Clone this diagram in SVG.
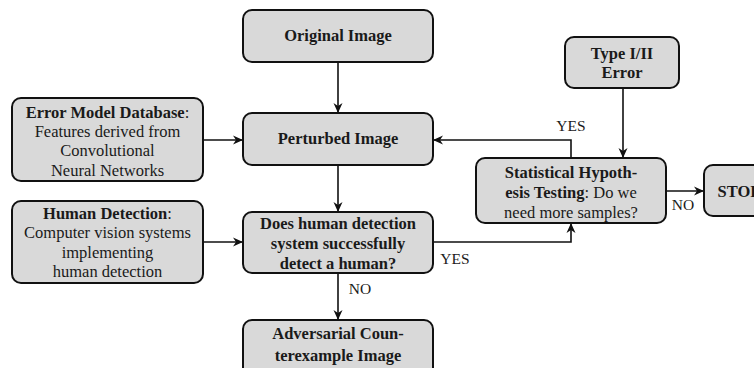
<svg xmlns="http://www.w3.org/2000/svg" width="754" height="368" viewBox="0 0 754 368" font-family="'Liberation Serif', 'Times New Roman', Times, 'DejaVu Serif', serif">
<defs>
<marker id="ah" viewBox="0 0 10 10" refX="9" refY="5" markerWidth="10" markerHeight="10" markerUnits="userSpaceOnUse" orient="auto">
<path d="M0,0.5 L10,5 L0,9.5 L3,5 Z" fill="#111"/>
</marker>
<style>
.box{fill:#d9d9d9;stroke:#111;stroke-width:2}
text{font-family:'Liberation Serif','Times New Roman',Times,'DejaVu Serif',serif;font-size:16.5px;fill:#1a1a1a;text-anchor:middle}
.b{font-weight:bold}
.lbl{font-size:15.5px}
.c{fill:none;stroke:#111;stroke-width:1.6}
</style>
</defs>
<rect width="754" height="368" fill="#fff"/>
<g id="connectors">
<path class="c" d="M338,62 V112" marker-end="url(#ah)"/>
<path class="c" d="M203,140 H242" marker-end="url(#ah)"/>
<path class="c" d="M338,165 V211" marker-end="url(#ah)"/>
<path class="c" d="M203,242 H242" marker-end="url(#ah)"/>
<path class="c" d="M338,273 V319" marker-end="url(#ah)"/>
<path class="c" d="M433,242 H571 V224" marker-end="url(#ah)"/>
<path class="c" d="M571,158 V140 H434" marker-end="url(#ah)"/>
<path class="c" d="M623,88 V157" marker-end="url(#ah)"/>
<path class="c" d="M666,191 H703" marker-end="url(#ah)"/>
<text class="lbl" x="360" y="294">NO</text>
<text class="lbl" x="455" y="264">YES</text>
<text class="lbl" x="571" y="131">YES</text>
<text class="lbl" x="683" y="210">NO</text>
</g>
<g id="original">
<rect class="box" x="243" y="10" width="190" height="52" rx="9"/>
<text class="b" x="338" y="41">Original Image</text>
</g>
<g id="perturbed">
<rect class="box" x="243" y="113" width="190" height="52" rx="9"/>
<text class="b" x="338" y="144">Perturbed Image</text>
</g>
<g id="errormodel">
<rect class="box" x="12" y="98" width="191" height="83" rx="9"/>
<text x="107.5" y="118"><tspan class="b">Error Model Database</tspan>:</text>
<text x="107.5" y="137">Features derived from</text>
<text x="107.5" y="156">Convolutional</text>
<text x="107.5" y="176">Neural Networks</text>
</g>
<g id="humandetection">
<rect class="box" x="12" y="201" width="191" height="82" rx="9"/>
<text x="107.5" y="219"><tspan class="b">Human Detection</tspan>:</text>
<text x="107.5" y="238">Computer vision systems</text>
<text x="107.5" y="258">implementing</text>
<text x="107.5" y="277">human detection</text>
</g>
<g id="does">
<rect class="box" x="243" y="212" width="190" height="61" rx="9"/>
<text class="b" x="338" y="229">Does human detection</text>
<text class="b" x="338" y="249">system successfully</text>
<text class="b" x="338" y="269">detect a human?</text>
</g>
<g id="adversarial">
<rect class="box" x="243" y="320" width="190" height="56" rx="9"/>
<text class="b" x="338" y="339">Adversarial Coun-</text>
<text class="b" x="338" y="361">terexample Image</text>
</g>
<g id="typeerror">
<rect class="box" x="565" y="37" width="114" height="51" rx="9"/>
<text class="b" x="622" y="59">Type I/II</text>
<text class="b" x="622" y="78">Error</text>
</g>
<g id="statistical">
<rect class="box" x="476" y="158" width="190" height="65" rx="9"/>
<text x="571" y="178" class="b">Statistical Hypoth-</text>
<text x="571" y="198"><tspan class="b">esis Testing</tspan>: Do we</text>
<text x="571" y="218">need more samples?</text>
</g>
<g id="stop">
<rect class="box" x="704" y="165" width="70" height="51" rx="9"/>
<text class="b" x="739" y="197">STOP</text>
</g>
</svg>
